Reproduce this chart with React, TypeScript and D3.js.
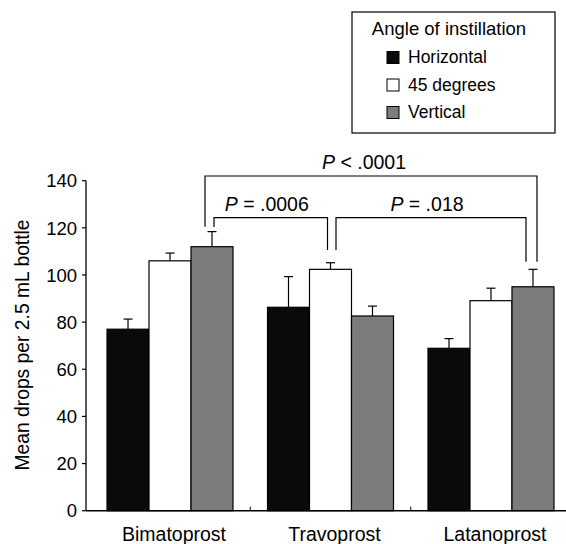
import React from "react";
import * as d3 from "d3";

const categories = ["Bimatoprost", "Travoprost", "Latanoprost"];
const series = ["Horizontal", "45 degrees", "Vertical"];
// mean drops per bottle, one array per angle (order follows categories)
const horizontal = [77, 86.3, 68.9];
const deg45 = [106, 102.4, 89.1];
const vertical = [112, 82.6, 95];
// SD shown as upward error bars
const horizontalErr = [4.3, 13, 4.1];
const deg45Err = [3.3, 2.8, 5.3];
const verticalErr = [6.4, 4.2, 7.4];
const yTicks = [0, 20, 40, 60, 80, 100, 120, 140];

const brackets = [
  { label: " < .0001", from: [0, 2], to: [2, 2], top: 142, fromEnd: 120.5, toEnd: 105.6 },
  { label: " = .0006", from: [0, 2], to: [1, 1], top: 124.3, fromEnd: 120.4, toEnd: 110.6 },
  { label: " = .018", from: [1, 1], to: [2, 2], top: 124.3, fromEnd: 110.6, toEnd: 105.6 },
];

const values = [horizontal, deg45, vertical];
const errors = [horizontalErr, deg45Err, verticalErr];
const fills = ["#0a0a0a", "#ffffff", "#7c7c7c"];
const font = "'Liberation Sans', Arial, Helvetica, sans-serif";

// pixel nudges for bracket ends and labels
const endShift = [
  [-7, 4],
  [2, -3],
  [5.5, -7],
];
const labelShift = [-7, -4, -4];

const App = () => {
  const width = 566;
  const height = 544;
  const axisX = 86;

  const y = d3.scaleLinear().domain([0, 140]).range([510.7, 180.7]);
  const x = d3
    .scaleBand()
    .domain(categories)
    .range([axisX, 575])
    .paddingInner(0.215)
    .paddingOuter(0.131);
  const xs = d3.scaleBand().domain(series).range([0, x.bandwidth()]);

  const barCenter = (c, s) => x(categories[c]) + xs(series[s]) + xs.bandwidth() / 2;

  return (
    <svg
      width={width}
      height={height}
      style={{ position: "absolute", left: 0, top: 0, background: "#fff" }}
      fontFamily={font}
    >
      {/* bars */}
      {series.map((s, si) => (
        <g key={s}>
          {categories.map((c, ci) => {
            const v = values[si][ci];
            const e = errors[si][ci];
            const bx = x(c) + xs(s);
            const cx = bx + xs.bandwidth() / 2;
            return (
              <g key={c}>
                <line x1={cx} x2={cx} y1={y(v)} y2={y(v + e)} stroke="#000" strokeWidth={1.2} />
                <line x1={cx - 4.5} x2={cx + 4.5} y1={y(v + e)} y2={y(v + e)} stroke="#000" strokeWidth={1.2} />
                <rect
                  x={bx}
                  y={y(v)}
                  width={xs.bandwidth()}
                  height={y(0) - y(v)}
                  fill={fills[si]}
                  stroke="#000"
                  strokeWidth={1.2}
                />
              </g>
            );
          })}
        </g>
      ))}

      {/* axes */}
      <line x1={axisX} x2={axisX} y1={y(0)} y2={y(140)} stroke="#000" strokeWidth={1.3} />
      <line x1={axisX} x2={width} y1={y(0)} y2={y(0)} stroke="#000" strokeWidth={1.5} />
      {yTicks.map(t => (
        <g key={t}>
          <line x1={axisX - 4} x2={axisX} y1={y(t)} y2={y(t)} stroke="#000" strokeWidth={1.2} />
          <text x={axisX - 9} y={y(t)} dy="0.36em" textAnchor="end" fontSize={18.5}>
            {t}
          </text>
        </g>
      ))}
      {categories.slice(1).map((c, i) => {
        const mid = (x(categories[i]) + x.bandwidth() + x(c)) / 2;
        return <line key={c} x1={mid} x2={mid} y1={y(0)} y2={y(0) - 4} stroke="#000" strokeWidth={1} />;
      })}
      {categories.map(c => (
        <text key={c} x={x(c) + x.bandwidth() / 2 + 4} y={541} textAnchor="middle" fontSize={19.5}>
          {c}
        </text>
      ))}
      <text
        transform={`translate(22, 345) rotate(-90)`}
        textAnchor="middle"
        dominantBaseline="central"
        fontSize={19.3}
      >
        Mean drops per 2.5 mL bottle
      </text>

      {/* significance brackets */}
      {brackets.map((b, i) => {
        const x1 = barCenter(b.from[0], b.from[1]) + endShift[i][0];
        const x2 = barCenter(b.to[0], b.to[1]) + endShift[i][1];
        const path = d3.path();
        path.moveTo(x1, y(b.fromEnd));
        path.lineTo(x1, y(b.top));
        path.lineTo(x2, y(b.top));
        path.lineTo(x2, y(b.toEnd));
        return (
          <g key={i}>
            <path d={path.toString()} fill="none" stroke="#000" strokeWidth={1.2} />
            <text x={(x1 + x2) / 2 + labelShift[i]} y={y(b.top) - 7} textAnchor="middle" fontSize={19.5}>
              <tspan fontStyle="italic">P</tspan>
              {b.label}
            </text>
          </g>
        );
      })}

      {/* legend */}
      <g>
        <rect x={352} y={12} width={203} height={121} fill="#fff" stroke="#000" strokeWidth={1.2} />
        <text x={449} y={35} textAnchor="middle" fontSize={18.5}>
          Angle of instillation
        </text>
        {series.map((s, i) => (
          <g key={s} transform={`translate(387, ${63 + i * 27.5})`}>
            <rect x={0} y={-11.5} width={12} height={12} fill={fills[i]} stroke="#000" strokeWidth={1} />
            <text x={21} y={0} fontSize={17.5}>
              {s}
            </text>
          </g>
        ))}
      </g>
    </svg>
  );
};

export default App;
